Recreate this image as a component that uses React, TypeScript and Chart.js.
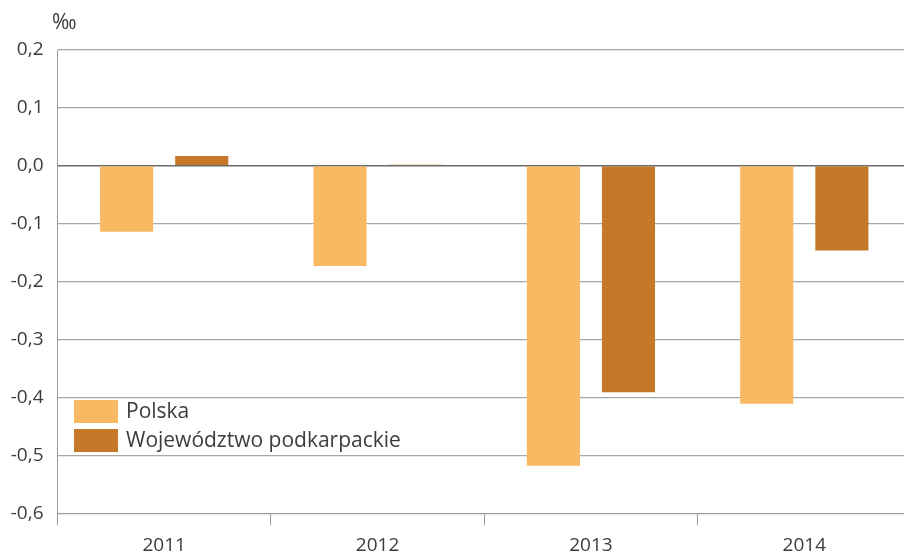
import React, { useEffect, useRef } from "react";
import { Chart, registerables } from "chart.js";

Chart.register(...registerables);

const categories = ["2011", "2012", "2013", "2014"];
const polska = [-0.114, -0.173, -0.518, -0.411];
const podkarpackie = [0.017, 0.002, -0.391, -0.146];
const seriesLabels = ["Polska", "Województwo podkarpackie"];
const seriesColors = ["#F9B862", "#C47828"];
const yMin = -0.6;
const yMax = 0.2;
const yStep = 0.1;
const unitLabel = "‰";

const FONT = "'Open Sans', 'Noto Sans', sans-serif";
const TEXT = "#3c3c3c";

const overlayPlugin = {
  id: "overlay",
  afterDraw(chart: any) {
    const ctx = chart.ctx;
    ctx.save();
    // unit label
    ctx.fillStyle = TEXT;
    ctx.font = `21px ${FONT}`;
    ctx.textAlign = "left";
    ctx.textBaseline = "middle";
    ctx.fillText(unitLabel, 52, 23);
    // legend
    const boxX = 74;
    const boxW = 44;
    const boxH = 23;
    const tops = [400, 429];
    chart.data.datasets.forEach((ds: any, i: number) => {
      ctx.fillStyle = ds.backgroundColor;
      ctx.fillRect(boxX, tops[i], boxW, boxH);
      ctx.fillStyle = TEXT;
      ctx.font = `21px ${FONT}`;
      ctx.textAlign = "left";
      ctx.textBaseline = "middle";
      ctx.fillText(ds.label, 126, tops[i] + boxH / 2 + 1);
    });
    ctx.restore();
  },
};

export default function App() {
  const ref = useRef<HTMLCanvasElement | null>(null);
  useEffect(() => {
    if (!ref.current) return;
    const chart = new Chart(ref.current, {
      type: "bar",
      data: {
        labels: categories,
        datasets: [
          {
            label: seriesLabels[0],
            data: polska,
            backgroundColor: seriesColors[0],
            categoryPercentage: 0.704,
            barPercentage: 0.707,
          },
          {
            label: seriesLabels[1],
            data: podkarpackie,
            backgroundColor: seriesColors[1],
            categoryPercentage: 0.704,
            barPercentage: 0.707,
          },
        ],
      },
      options: {
        responsive: false,
        animation: false,
        layout: { padding: { top: 50, right: 1, left: 0, bottom: 0 } },
        plugins: {
          legend: { display: false },
          tooltip: { enabled: false },
        },
        scales: {
          x: {
            grid: {
              display: true,
              drawOnChartArea: false,
              drawTicks: true,
              tickLength: 12,
              color: "#9a9a9a",
              offset: true,
            },
            border: { display: true, color: "#9a9a9a", width: 1 },
            ticks: {
              color: TEXT,
              font: { family: FONT, size: 19 },
              padding: 9,
            },
            afterFit: (s: any) => {
              s.height = 39.7;
            },
          },
          y: {
            min: yMin,
            max: yMax,
            ticks: {
              stepSize: yStep,
              color: TEXT,
              font: { family: FONT, size: 19 },
              padding: 14,
              callback: (v: any) => {
                const n = Number(v);
                if (Math.abs(n) < 1e-9) return "0,0";
                return n.toFixed(1).replace(".", ",");
              },
            },
            grid: {
              drawTicks: false,
              color: (c: any) =>
                c.tick && Math.abs(c.tick.value) < 1e-9 ? "#6a6a6a" : "#a8a8a8",
              lineWidth: (c: any) =>
                c.tick && Math.abs(c.tick.value) < 1e-9 ? 1.5 : 1.2,
            },
            border: { display: true, color: "#9a9a9a", width: 1 },
            afterFit: (s: any) => {
              s.width = 57.5;
            },
          },
        },
      },
      plugins: [overlayPlugin],
    });
    return () => chart.destroy();
  }, []);
  return (
    <div
      style={{
        position: "fixed",
        left: 0,
        top: 0,
        width: 904,
        height: 553,
        overflow: "hidden",
        background: "#fff",
      }}
    >
      <canvas
        ref={ref}
        width={912}
        height={553}
        style={{ width: 912, height: 553, display: "block" }}
      />
    </div>
  );
}
